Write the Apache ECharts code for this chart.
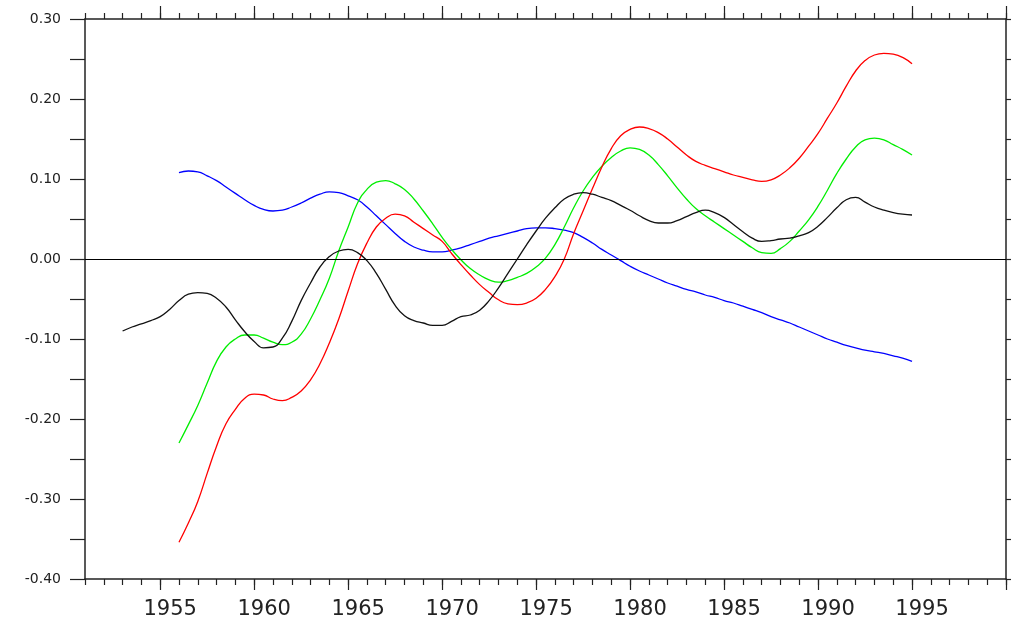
<!DOCTYPE html>
<html><head><meta charset="utf-8">
<script src="https://cdn.jsdelivr.net/npm/echarts@6/dist/echarts.min.js"></script>
<style>html,body{margin:0;padding:0;background:#fff}#c{width:1011px;height:621px}</style>
</head><body><div id="c"></div>
<script>
const years = [1953,1953.5,1954,1954.5,1955,1955.5,1956,1956.5,1957,1957.5,1958,1958.5,1959,1959.5,1960,1960.5,1961,1961.5,1962,1962.5,1963,1963.5,1964,1964.5,1965,1965.5,1966,1966.5,1967,1967.5,1968,1968.5,1969,1969.5,1970,1970.5,1971,1971.5,1972,1972.5,1973,1973.5,1974,1974.5,1975,1975.5,1976,1976.5,1977,1977.5,1978,1978.5,1979,1979.5,1980,1980.5,1981,1981.5,1982,1982.5,1983,1983.5,1984,1984.5,1985,1985.5,1986,1986.5,1987,1987.5,1988,1988.5,1989,1989.5,1990,1990.5,1991,1991.5,1992,1992.5,1993,1993.5,1994,1994.5,1995];
const blackVals = [-0.090,-0.085,-0.081,-0.077,-0.072,-0.063,-0.052,-0.044,-0.042,-0.043,-0.049,-0.060,-0.076,-0.091,-0.103,-0.111,-0.110,-0.099,-0.078,-0.052,-0.030,-0.010,0.003,0.010,0.012,0.008,-0.002,-0.018,-0.038,-0.058,-0.071,-0.077,-0.080,-0.083,-0.083,-0.078,-0.072,-0.070,-0.064,-0.052,-0.036,-0.018,0.000,0.018,0.035,0.051,0.064,0.075,0.081,0.083,0.081,0.077,0.073,0.067,0.061,0.054,0.048,0.045,0.045,0.048,0.053,0.058,0.061,0.058,0.052,0.043,0.034,0.026,0.022,0.023,0.025,0.026,0.029,0.033,0.041,0.052,0.064,0.074,0.077,0.071,0.065,0.061,0.058,0.056,0.055];
const blueVals = [null,null,null,null,null,null,0.108,0.110,0.109,0.104,0.098,0.090,0.082,0.074,0.067,0.062,0.060,0.061,0.065,0.070,0.076,0.081,0.084,0.083,0.079,0.074,0.065,0.054,0.043,0.032,0.022,0.015,0.011,0.009,0.009,0.011,0.014,0.018,0.022,0.026,0.029,0.032,0.035,0.038,0.039,0.039,0.038,0.036,0.033,0.027,0.020,0.012,0.005,-0.002,-0.009,-0.015,-0.020,-0.025,-0.030,-0.034,-0.038,-0.041,-0.045,-0.048,-0.052,-0.055,-0.059,-0.063,-0.067,-0.072,-0.076,-0.080,-0.085,-0.090,-0.095,-0.100,-0.104,-0.108,-0.111,-0.114,-0.116,-0.118,-0.121,-0.124,-0.128];
const greenVals = [null,null,null,null,null,null,-0.230,-0.207,-0.183,-0.155,-0.128,-0.110,-0.100,-0.095,-0.095,-0.099,-0.104,-0.107,-0.104,-0.094,-0.075,-0.051,-0.024,0.010,0.040,0.070,0.087,0.096,0.098,0.094,0.087,0.075,0.060,0.044,0.027,0.012,-0.001,-0.012,-0.020,-0.026,-0.029,-0.027,-0.023,-0.018,-0.010,0.001,0.018,0.040,0.064,0.085,0.102,0.116,0.127,0.135,0.139,0.137,0.130,0.118,0.104,0.089,0.075,0.063,0.054,0.046,0.038,0.030,0.022,0.014,0.008,0.007,0.013,0.022,0.035,0.049,0.066,0.086,0.107,0.125,0.140,0.149,0.151,0.149,0.143,0.137,0.130];
const redVals = [null,null,null,null,null,null,-0.354,-0.330,-0.303,-0.268,-0.234,-0.206,-0.188,-0.174,-0.169,-0.170,-0.175,-0.177,-0.173,-0.165,-0.151,-0.131,-0.105,-0.075,-0.040,-0.006,0.020,0.040,0.051,0.056,0.054,0.046,0.038,0.030,0.022,0.007,-0.007,-0.020,-0.032,-0.042,-0.051,-0.056,-0.057,-0.055,-0.049,-0.038,-0.022,0.000,0.032,0.060,0.088,0.115,0.138,0.154,0.162,0.165,0.163,0.158,0.150,0.140,0.130,0.122,0.117,0.113,0.109,0.105,0.102,0.099,0.097,0.099,0.105,0.114,0.126,0.141,0.157,0.176,0.195,0.216,0.235,0.248,0.255,0.257,0.256,0.252,0.244];
const xLabelYears = [1955,1960,1965,1970,1975,1980,1985,1990,1995];
const xMajorTicks = [1955,1960,1965,1970,1975,1980,1985,1990,1995,2000];
const xMin = 1951, xMax = 2000;
const yMin = -0.4, yMax = 0.3, yStep = 0.1;

const axisCol = '#222';
function pairs(vals){ return years.map((y,i)=>[y, vals[i]]); }
const gridBox = {left:85, right:5, top:19, bottom:42};

function xMinor(pos, grid){
  return {type:'value', gridIndex:grid, position:pos, min:xMin, max:xMax, interval:1,
    axisLine:{show:true, onZero:false, lineStyle:{color:axisCol, width:1.5}},
    axisTick:{show:true, length:6, lineStyle:{color:axisCol, width:1.2}},
    axisLabel:{show:false}, splitLine:{show:false}};
}
function xMajor(pos, grid, labels){
  return {type:'value', gridIndex:grid, position:pos, min:xMin, max:xMax, interval:1,
    axisLine:{show:false, onZero:false},
    axisTick:{show:true, customValues:xMajorTicks, length: pos==='top'?13:11, lineStyle:{color:axisCol, width:1.2}},
    axisLabel: labels ? {show:true, customValues:xLabelYears, fontFamily:'DejaVu Sans', fontSize:21, color:axisCol, margin:20, padding:[0,0,0,20], formatter:v=>String(v)} : {show:false},
    splitLine:{show:false}};
}
function yAx(pos, grid, labels){
  return {type:'value', gridIndex:grid, position:pos, min:yMin, max:yMax, interval:yStep,
    axisLine:{show:grid===0, onZero:false, lineStyle:{color:axisCol, width:1.5}},
    axisTick:{show:grid===0, length:15, lineStyle:{color:axisCol, width:1.2}},
    minorTick:{show:grid===0, splitNumber:2, length:15, lineStyle:{color:axisCol, width:1.2}},
    axisLabel: labels ? {show:true, fontFamily:'DejaVu Sans', fontSize:14, color:axisCol, margin:24, formatter:v=>v.toFixed(2)} : {show:false},
    splitLine:{show:false}};
}

function lineSeries(name, vals, color, extra){
  return Object.assign({name, type:'line', xAxisIndex:0, yAxisIndex:0, data:pairs(vals), showSymbol:false, symbol:'none', smooth:0.5, connectNulls:false,
    lineStyle:{color, width:1.3}, itemStyle:{color}}, extra||{});
}

const chart = echarts.init(document.getElementById('c'), null, {renderer:'canvas'});
chart.setOption({
  animation:false,
  backgroundColor:'#fff',
  grid:[Object.assign({}, gridBox), Object.assign({}, gridBox)],
  xAxis:[xMinor('bottom',0), xMinor('top',0), xMajor('bottom',1,true), xMajor('top',1,false)],
  yAxis:[yAx('left',0,true), yAx('right',0,false), yAx('left',1,false), yAx('right',1,false)],
  series:[
    lineSeries('blue', blueVals, '#0000ff', {markLine:{silent:true, symbol:['none','none'], label:{show:false}, lineStyle:{color:'#000', type:'solid', width:1.2}, data:[{yAxis:0}]}}),
    lineSeries('green', greenVals, '#00ee00'),
    lineSeries('red', redVals, '#ff0000'),
    lineSeries('black', blackVals, '#111')
  ]
});
</script></body></html>
